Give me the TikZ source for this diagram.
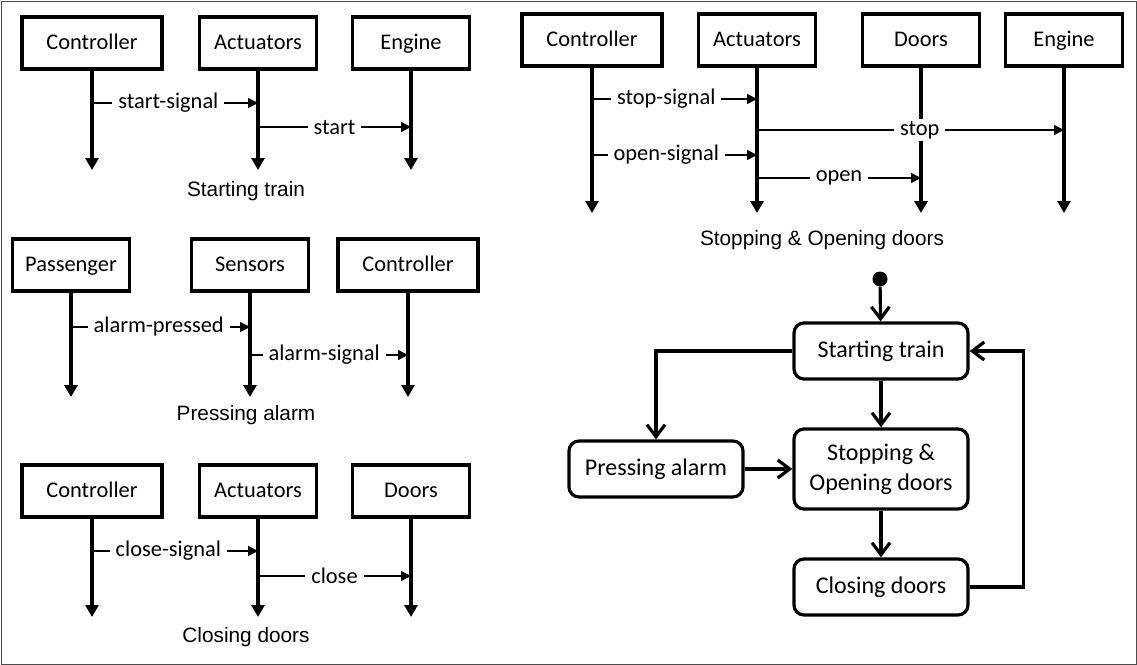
\documentclass[tikz,border=0pt]{standalone}
\usepackage{fontspec}
\setmainfont{Carlito}
\newfontfamily\capfont{Liberation Sans}
\usetikzlibrary{arrows.meta, positioning}

\begin{document}
\begin{tikzpicture}[
  x=0.5pt, y=-0.5pt,
  font=\fontsize{11.2}{13}\selectfont,
  obj/.style={draw, line width=1.6pt, minimum width=58.5pt, minimum height=26pt,
              inner sep=0pt, text height=1.7ex, text depth=0.3ex},
  wide/.style={obj, minimum width=70pt},
  life/.style={line width=1.7pt, -{Triangle[length=6pt,width=6.5pt]}},
  msg/.style={line width=0.7pt, -{Triangle[length=5pt,width=5pt]}},
  lbl/.style={fill=white, inner xsep=3pt, inner ysep=1pt, pos=0.46},
  caption/.style={font=\capfont\fontsize{10.4}{12}\selectfont},
  state/.style={draw, line width=1.6pt, rounded corners=5pt, align=center,
                minimum width=87pt, minimum height=28pt,
                font=\fontsize{12}{15}\selectfont},
  trans/.style={line width=1.6pt, -{Straight Barb[length=6pt,width=9pt]}}
]
\useasboundingbox (0,0) rectangle (1137,665);
\draw[gray!60!black, line width=0.5pt] (1,1) rectangle (1136,664);

% starting train
\node[wide] (ctrlA) at (92,43) {Controller};
\node[obj] (actA) at (258,43) {Actuators};
\node[obj] (engA) at (411,43) {Engine};
\coordinate (endA) at (0,170);
\coordinate (yA1) at (0,103);
\coordinate (yA2) at (0,127);
\foreach \n in {ctrlA,actA,engA} \draw[life] (\n) -- (\n |- endA);
\draw[msg] (ctrlA |- yA1) -- node[lbl] {start-signal} (actA |- yA1);
\draw[msg] (actA |- yA2) -- node[lbl, pos=0.5] {start} (engA |- yA2);
\node[caption] (capA) at (246,191) {Starting train};

% pressing alarm
\node[obj] (passB) at (71,265) {Passenger};
\node[obj] (sensB) at (250,265) {Sensors};
\node[wide] (ctrlB) at (408,265) {Controller};
\coordinate (endB) at (0,397);
\coordinate (yB1) at (0,327);
\coordinate (yB2) at (0,355);
\foreach \n in {passB,sensB,ctrlB} \draw[life] (\n) -- (\n |- endB);
\draw[msg] (passB |- yB1) -- node[lbl, pos=0.49] {alarm-pressed} (sensB |- yB1);
\draw[msg] (sensB |- yB2) -- node[lbl, pos=0.47] {alarm-signal} (ctrlB |- yB2);
\node[caption] (capB) at (246,415) {Pressing alarm};

% closing doors
\node[wide] (ctrlC) at (92,491) {Controller};
\node[obj] (actC) at (258,491) {Actuators};
\node[obj] (doorC) at (411,491) {Doors};
\coordinate (endC) at (0,617);
\coordinate (yC1) at (0,551);
\coordinate (yC2) at (0,576);
\foreach \n in {ctrlC,actC,doorC} \draw[life] (\n) -- (\n |- endC);
\draw[msg] (ctrlC |- yC1) -- node[lbl] {close-signal} (actC |- yC1);
\draw[msg] (actC |- yC2) -- node[lbl, pos=0.5] {close} (doorC |- yC2);
\node[caption] (capC) at (246,637) {Closing doors};

% stopping & opening doors
\node[wide] (ctrlD) at (592,40) {Controller};
\node[obj] (actD) at (757,40) {Actuators};
\node[obj] (doorD) at (921,40) {Doors};
\node[obj] (engD) at (1064,40) {Engine};
\coordinate (endD) at (0,213);
\coordinate (yD1) at (0,99);
\coordinate (yD2) at (0,130);
\coordinate (yD3) at (0,155);
\coordinate (yD4) at (0,178);
\foreach \n in {ctrlD,actD,doorD,engD} \draw[life] (\n) -- (\n |- endD);
\draw[msg] (ctrlD |- yD1) -- node[lbl, pos=0.45] {stop-signal} (actD |- yD1);
\draw[msg] (actD |- yD2) -- node[lbl, pos=0.53] {stop} (engD |- yD2);
\draw[msg] (ctrlD |- yD3) -- node[lbl, pos=0.45] {open-signal} (actD |- yD3);
\draw[msg] (actD |- yD4) -- node[lbl, pos=0.5] {open} (doorD |- yD4);
\node[caption] (capD) at (822,240) {Stopping \& Opening doors};

% state machine
\node[circle, fill, inner sep=0pt, minimum size=7.5pt] (init) at (880,279) {};
\node[state] (sStart) at (881,351) {Starting train};
\node[state, minimum height=40pt] (sStop) at (881,469) {Stopping \&\\Opening doors};
\node[state] (sAlarm) at (656,469) {Pressing alarm};
\node[state] (sClose) at (881,587) {Closing doors};
\draw[trans] (init) -- (sStart);
\draw[trans] (sStart) -- (sStop);
\draw[trans] (sStop) -- (sClose);
\draw[trans] (sAlarm) -- (sStop);
\draw[trans] (sStart.west) -| (sAlarm.north);
\draw[trans] (sClose.east) -- ++(54,0) |- (sStart.east);
\end{tikzpicture}
\end{document}
